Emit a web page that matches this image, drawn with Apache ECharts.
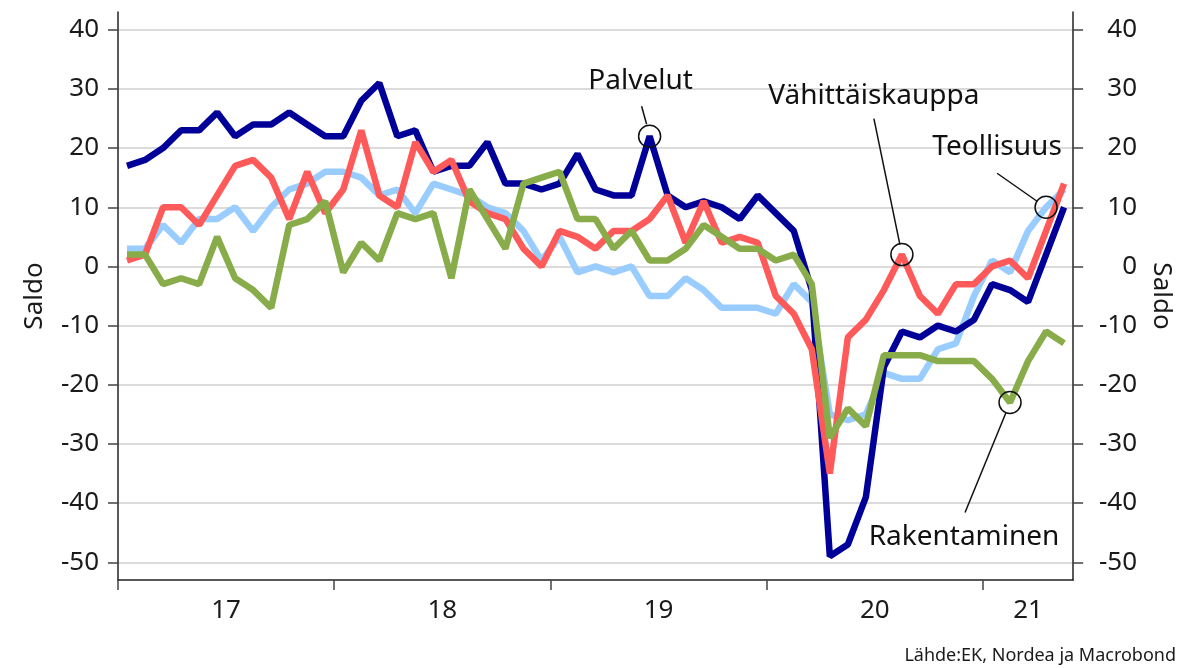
<!DOCTYPE html>
<html>
<head>
<meta charset="utf-8">
<script src="https://cdn.jsdelivr.net/npm/echarts@6/dist/echarts.min.js"></script>
</head>
<body style="margin:0; background:#fff">
<div id="main" style="width:1182px;height:668px;"></div>
<script>
// kuukausittaiset saldoluvut, tammikuu 2017 - toukokuu 2021
var teollisuus = [3, 3, 7, 4, 8, 8, 10, 6, 10, 13, 14, 16,
                  16, 15, 12, 13, 9, 14, 13, 12, 10, 9, 6, 1,
                  5, -1, 0, -1, 0, -5, -5, -2, -4, -7, -7, -7,
                  -8, -3, -6, -25, -26, -25, -18, -19, -19, -14, -13, -5,
                  1, -1, 6, 10, 13];
var palvelut = [17, 18, 20, 23, 23, 26, 22, 24, 24, 26, 24, 22,
                22, 28, 31, 22, 23, 16, 17, 17, 21, 14, 14, 13,
                14, 19, 13, 12, 12, 22, 12, 10, 11, 10, 8, 12,
                9, 6, -4, -49, -47, -39, -17, -11, -12, -10, -11, -9,
                -3, -4, -6, 2, 10];
var vahittais = [1, 2, 10, 10, 7, 12, 17, 18, 15, 8, 16, 9,
                 13, 23, 12, 10, 21, 16, 18, 11, 9, 8, 3, 0,
                 6, 5, 3, 6, 6, 8, 12, 4, 11, 4, 5, 4,
                 -5, -8, -14, -35, -12, -9, -4, 2, -5, -8, -3, -3,
                 0, 1, -2, 6, 14];
var rakentaminen = [2, 2, -3, -2, -3, 5, -2, -4, -7, 7, 8, 11,
                    -1, 4, 1, 9, 8, 9, -2, 13, 8, 3, 14, 15,
                    16, 8, 8, 3, 6, 1, 1, 3, 7, 5, 3, 3,
                    1, 2, -3, -29, -24, -27, -15, -15, -15, -16, -16, -16,
                    -19, -23, -16, -11, -13];

var yearLabels = ['17', '18', '19', '20', '21'];
var yearLabelPos = [6, 18, 30, 42, 50.5];   // kuukausina alusta
var yearTicks = [0, 12, 24, 36, 48];
var yTicks = [-50, -40, -30, -20, -10, 0, 10, 20, 30, 40];

var FONT = '"Noto Sans", "Open Sans", sans-serif';
var nMonths = palvelut.length;

function toPoints(arr) {
    return arr.map(function (v, i) { return [i + 0.5, v]; });
}

var seriesDefs = [
    { name: 'Teollisuus', data: teollisuus, color: '#99ccff' },
    { name: 'Palvelut', data: palvelut, color: '#000099' },
    { name: 'Vähittäiskauppa', data: vahittais, color: '#ff5a5a' },
    { name: 'Rakentaminen', data: rakentaminen, color: '#88ac4a' }
];

// huomautukset: ympyrä datapisteen ympärille, viiva ja teksti (siirtymät pikseleinä)
var notes = [
    { series: 1, idx: 29, text: [-9, -55], line: [-8, -30, -3, -12] },
    { series: 2, idx: 43, text: [-28, -159], line: [-28, -136, -2, -10] },
    { series: 0, idx: 51, text: [-49, -60], line: [-49, -34, -9, -6] },
    { series: 3, idx: 49, text: [-46, 135], line: [-45, 110, -4, 10] }
];

function yAxisDef(pos) {
    var right = pos === 'right';
    return {
        type: 'value',
        position: pos,
        min: -53,
        max: 43,
        name: 'Saldo',
        nameLocation: 'middle',
        nameGap: 70,
        nameRotate: right ? -90 : 90,
        nameTextStyle: { fontFamily: FONT, fontSize: 26, color: '#1a1a1a' },
        axisLine: { show: true, lineStyle: { color: '#222', width: 1.5 } },
        axisTick: { show: true, customValues: yTicks, length: 10, lineStyle: { color: '#444', width: 1.5 } },
        axisLabel: {
            customValues: yTicks,
            fontFamily: FONT, fontSize: 26, color: '#1a1a1a',
            align: 'right',
            margin: right ? 64 : 19
        },
        splitLine: { show: !right, lineStyle: { color: '#cfcfcf', width: 1.5 } }
    };
}

var myChart = echarts.init(document.getElementById('main'));
var option = {
    animation: false,
    backgroundColor: '#fff',
    grid: { left: 118, right: 104, top: 12, bottom: 88 },
    xAxis: {
        type: 'value',
        min: 0,
        max: nMonths,
        axisLine: { show: true, onZero: false, lineStyle: { color: '#222', width: 1.5 } },
        axisTick: { show: true, customValues: yearTicks, length: 10, lineStyle: { color: '#444', width: 1.5 } },
        axisLabel: {
            customValues: yearLabelPos,
            fontFamily: FONT, fontSize: 26, color: '#1a1a1a', margin: 18,
            formatter: function (v) {
                var k = yearLabelPos.indexOf(v);
                return k >= 0 ? yearLabels[k] : '';
            }
        },
        splitLine: { show: false }
    },
    yAxis: [yAxisDef('left'), yAxisDef('right')],
    series: seriesDefs.map(function (s) {
        return {
            name: s.name,
            type: 'line',
            data: toPoints(s.data),
            symbol: 'none',
            lineStyle: { color: s.color, width: 6.5, join: 'bevel' },
            itemStyle: { color: s.color }
        };
    }),
    graphic: [{
        type: 'text',
        right: 6,
        bottom: 3,
        style: { text: 'Lähde:EK, Nordea ja Macrobond', font: '18px ' + FONT, fill: '#1a1a1a' }
    }]
};
myChart.setOption(option);

var extra = [];
notes.forEach(function (n) {
    var s = seriesDefs[n.series];
    var p = myChart.convertToPixel({ seriesIndex: n.series }, [n.idx + 0.5, s.data[n.idx]]);
    extra.push({
        type: 'circle', z: 100,
        shape: { cx: p[0], cy: p[1], r: 11 },
        style: { fill: 'none', stroke: '#111', lineWidth: 1.5 }
    });
    extra.push({
        type: 'line', z: 100,
        shape: { x1: p[0] + n.line[0], y1: p[1] + n.line[1], x2: p[0] + n.line[2], y2: p[1] + n.line[3] },
        style: { stroke: '#111', lineWidth: 1.5 }
    });
    extra.push({
        type: 'text', z: 100,
        x: p[0] + n.text[0], y: p[1] + n.text[1],
        style: { text: s.name, font: '28px ' + FONT, fill: '#111', align: 'center', verticalAlign: 'middle' }
    });
});
myChart.setOption({ graphic: option.graphic.concat(extra) });
</script>
</body>
</html>
